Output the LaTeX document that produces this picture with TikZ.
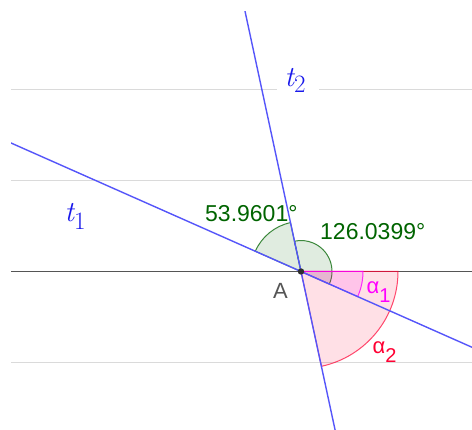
\documentclass[tikz,border=0pt]{standalone}
\usepackage{fontspec}
\setsansfont{Liberation Sans}
\usetikzlibrary{calc}
\definecolor{lineblue}{RGB}{85,85,250}
\definecolor{labelblue}{RGB}{25,25,235}
\definecolor{anggreen}{RGB}{0,100,0}
\definecolor{angmag}{RGB}{255,0,255}
\definecolor{angred}{RGB}{255,0,51}
\definecolor{gridgray}{RGB}{218,218,218}
\definecolor{axisgray}{RGB}{85,85,85}
\definecolor{ptgray}{RGB}{45,45,45}
\begin{document}
\begin{tikzpicture}[x=1pt,y=1pt,
  gridline/.style={draw=gridgray, line width=1.3pt},
  axisline/.style={draw=axisgray, line width=1.3pt},
  tline/.style={draw=lineblue, line width=1.4pt},
  greensector/.style={fill=anggreen, fill opacity=0.12, draw=anggreen, draw opacity=0.75, line width=1pt},
  magsector/.style={fill=angmag, fill opacity=0.12, draw=angmag, draw opacity=0.8, line width=1pt},
  redsector/.style={fill=angred, fill opacity=0.12, draw=angred, draw opacity=0.7, line width=1pt},
  sanslabel/.style={anchor=base west, inner sep=0pt, font=\fontsize{23}{23}\sffamily},
  tlabel/.style={anchor=base west, inner sep=0pt, text=labelblue, font=\fontsize{29}{29}\selectfont}
]
\fill[white] (0,0) rectangle (472,430);
\useasboundingbox (0,0) rectangle (472,430);
\coordinate (A) at (301,158.5);

% horizontal lines
\draw[gridline] (11,340.5) -- (472,340.5);
\draw[gridline] (11,249.5) -- (472,249.5);
\draw[gridline] (11,67.5) -- (472,67.5);
\draw[axisline] (11,158.5) -- (472,158.5);

% angle sectors
\path[greensector] (A) -- ++(102.14:50) arc[start angle=102.14, end angle=156.1, radius=50] -- cycle;
\path[greensector] (A) -- ++(-23.9:31) arc[start angle=-23.9, end angle=102.14, radius=31] -- cycle;
\path[redsector] (A) -- ++(-77.86:97) arc[start angle=-77.86, end angle=0, radius=97] -- cycle;
\path[magsector] (A) -- ++(-23.9:62) arc[start angle=-23.9, end angle=0, radius=62] -- cycle;

% lines t1, t2
\begin{scope}
\clip (11,0) rectangle (472,418);
\draw[tline] ($(A)+(156.1:420)$) -- ($(A)+(-23.9:420)$);
\draw[tline] ($(A)+(102.14:440)$) -- ($(A)+(-77.86:440)$);
\end{scope}

% point A
\fill[ptgray] (A) circle (3.2);

% labels
\fill[white] (277,334) rectangle (319,347);
\node[tlabel] (t2lab) at (284.5,343.3) {\itshape t\raisebox{-6pt}{\fontsize{25}{25}\selectfont\upshape 2}};
\node[tlabel] (t1lab) at (64.5,208.3) {\itshape t\raisebox{-8pt}{\fontsize{25}{25}\selectfont\upshape 1}};
\node[sanslabel, text=anggreen] (g1) at (205,208.5) {53.9601°};
\node[sanslabel, text=anggreen] (g2) at (320,190) {126.0399°};
\node[sanslabel, text=axisgray, font=\fontsize{22}{22}\sffamily] (Alab) at (273,131.7) {A};
\node[sanslabel, text=angmag, font=\fontsize{22}{22}\sffamily] (a1) at (366.5,136) {α\raisebox{-8.5pt}{\fontsize{20}{20}\selectfont 1}};
\node[sanslabel, text=angred, font=\fontsize{22}{22}\sffamily] (a2) at (372.5,76.7) {α\raisebox{-9pt}{\fontsize{20}{20}\selectfont 2}};
\end{tikzpicture}
\end{document}
